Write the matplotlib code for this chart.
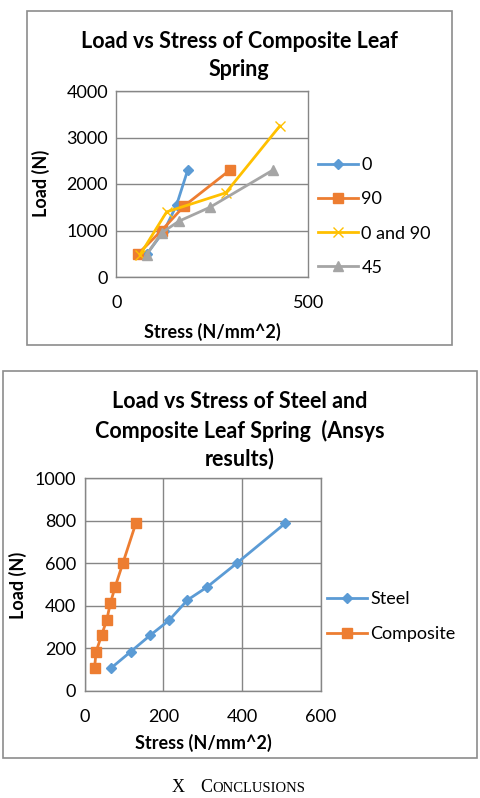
import matplotlib
matplotlib.use("Agg")
import matplotlib.pyplot as plt
from matplotlib.patches import Rectangle

W, H = 480, 798

# top chart: composite leaf spring, four fibre orientations
x_0 = [80, 125, 157, 186]
y_0 = [500, 1000, 1550, 2300]
x_90 = [57, 118, 177, 296]
y_90 = [500, 1000, 1530, 2300]
x_0and90 = [62, 131, 285, 426]
y_0and90 = [480, 1400, 1810, 3250]
x_45 = [79, 118, 163, 244, 408]
y_45 = [480, 950, 1200, 1500, 2300]

# bottom chart: steel vs composite (Ansys)
steel_x = [66, 117, 167, 214, 261, 310, 386, 509]
steel_y = [105, 184, 262, 331, 427, 487, 600, 788]
comp_x = [25, 29, 43, 56, 65, 77, 97, 130]
comp_y = [108, 184, 262, 333, 411, 487, 601, 789]

blue = '#5B9BD5'
orange = '#ED7D31'
yellow = '#FFC000'
gray = '#A5A5A5'
gridc = '#868686'

plt.rcParams['font.family'] = ['Lato', 'DejaVu Sans']

fig = plt.figure(figsize=(W / 100, H / 100), dpi=100)


def fx(x):
    return x / W


def fy(y):
    return 1 - y / H


def box(x0, y0, x1, y1):
    fig.patches.append(Rectangle((fx(x0), fy(y1)), fx(x1) - fx(x0), fy(y0) - fy(y1),
                                 transform=fig.transFigure, fill=False,
                                 edgecolor='#8c8c8c', lw=1.2))


def style(ax):
    for s in ax.spines.values():
        s.set_color(gridc)
        s.set_linewidth(1)
    ax.tick_params(length=0, labelsize=13, colors='black', pad=6)
    ax.set_axisbelow(True)


# ---------- top chart ----------
box(27, 11, 452, 345)
ax1 = fig.add_axes([fx(116.3), fy(277), fx(308.3) - fx(116.3), fy(91) - fy(277)])
style(ax1)
ax1.grid(axis='y', color=gridc, lw=1)
ax1.plot(x_0, y_0, color=blue, lw=2, marker='D', ms=5, label='0')
ax1.plot(x_90, y_90, color=orange, lw=2, marker='s', ms=7, label='90')
ax1.plot(x_0and90, y_0and90, color=yellow, lw=2, marker='x', ms=7, mew=1, label='0 and 90')
ax1.plot(x_45, y_45, color=gray, lw=2, marker='^', ms=7, label='45')
ax1.set_xlim(0, 500)
ax1.set_ylim(0, 4000)
ax1.set_xticks([0, 500])
ax1.set_yticks([0, 1000, 2000, 3000, 4000])
ax1.tick_params(axis='x', pad=13)
fig.text(fx(239), fy(41), 'Load vs Stress of Composite Leaf', ha='center', va='center',
         fontsize=15.5, fontweight='bold')
fig.text(fx(239), fy(70), 'Spring', ha='center', va='center', fontsize=15.5, fontweight='bold')
fig.text(fx(212), fy(332), 'Stress (N/mm^2)', ha='center', va='center', fontsize=13, fontweight='bold')
fig.text(fx(41), fy(183), 'Load (N)', ha='center', va='center', rotation=90,
         fontsize=13, fontweight='bold')
fig.legend(handles=ax1.get_lines(), loc='center left', bbox_to_anchor=(fx(318), fy(216.5)),
           frameon=False, fontsize=13, handlelength=2.2, handletextpad=0.2,
           labelspacing=1.0, borderpad=0, borderaxespad=0)

# ---------- bottom chart ----------
box(3, 371, 477, 758)
ax2 = fig.add_axes([fx(84.7), fy(690.7), fx(321) - fx(84.7), fy(478.3) - fy(690.7)])
style(ax2)
ax2.grid(True, color=gridc, lw=1)
ax2.plot(steel_x, steel_y, color=blue, lw=2, marker='D', ms=5, label='Steel')
ax2.plot(comp_x, comp_y, color=orange, lw=2, marker='s', ms=7, label='Composite')
ax2.set_xlim(0, 600)
ax2.set_ylim(0, 1000)
ax2.set_xticks([0, 200, 400, 600])
ax2.set_yticks([0, 200, 400, 600, 800, 1000])
ax2.tick_params(axis='x', pad=13)
fig.text(fx(240), fy(401), 'Load vs Stress of Steel and', ha='center', va='center',
         fontsize=15.5, fontweight='bold')
fig.text(fx(240), fy(431), 'Composite Leaf Spring  (Ansys', ha='center', va='center',
         fontsize=15.5, fontweight='bold')
fig.text(fx(240), fy(459), 'results)', ha='center', va='center', fontsize=15.5, fontweight='bold')
fig.text(fx(203), fy(743), 'Stress (N/mm^2)', ha='center', va='center', fontsize=13, fontweight='bold')
fig.text(fx(18), fy(585), 'Load (N)', ha='center', va='center', rotation=90,
         fontsize=13, fontweight='bold')
fig.legend(handles=ax2.get_lines(), loc='center left', bbox_to_anchor=(fx(327), fy(616.7)),
           frameon=False, fontsize=13, handlelength=2.2, handletextpad=0.2,
           labelspacing=1.05, borderpad=0, borderaxespad=0)

# ---------- section caption (small caps) ----------
serif = ['Liberation Serif', 'DejaVu Serif']
base = 792
fig.text(fx(172), fy(base), 'X', ha='left', va='baseline', fontsize=13, family=serif)
c = fig.text(fx(200), fy(base), 'C', ha='left', va='baseline', fontsize=13, family=serif)
r = fig.canvas.get_renderer()
cw = c.get_window_extent(r).width
fig.text(fx(200 + cw), fy(base), 'ONCLUSIONS', ha='left', va='baseline', fontsize=10.5, family=serif)

fig.savefig('out.png', dpi=100)
